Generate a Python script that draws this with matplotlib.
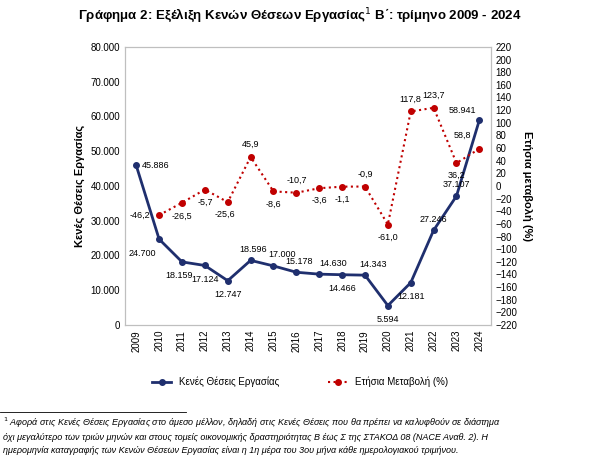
import matplotlib
matplotlib.use("Agg")
import matplotlib.pyplot as plt
from matplotlib.ticker import FuncFormatter

years = [str(y) for y in range(2009, 2025)]
vacancies = [45886, 24700, 18159, 17124, 12747, 18596, 17000, 15178, 14630, 14466, 14343, 5594, 12181, 27246, 37107, 58941]
change_years = years[1:]
change = [-46.2, -26.5, -5.7, -25.6, 45.9, -8.6, -10.7, -3.6, -1.1, -0.9, -61.0, 117.8, 123.7, 36.2, 58.8]

plt.rcParams["font.family"] = "Liberation Sans"
fig = plt.figure(figsize=(6, 4.69), dpi=100)
ax = fig.add_axes([0.208, 0.307, 0.61, 0.593])
ax2 = ax.twinx()

x = list(range(len(years)))
blue = "#1f2f6e"
red = "#c00000"
ax.plot(x, vacancies, color=blue, lw=2, marker="o", ms=4, label="Κενές Θέσεις Εργασίας")
ax2.plot(x[1:], change, color=red, lw=1.5, ls=":", marker="o", ms=4, label="Ετήσια Μεταβολή (%)")

def gr(v, d=0):
    s = f"{v:,.{d}f}"
    return s.replace(",", "X").replace(".", ",").replace("X", ".")

boff = {0: (14, 0), 1: (-12, -10), 2: (-2, -10), 3: (0, -10), 4: (0, -10), 5: (2, 8), 6: (6, 8),
        7: (2, 8), 8: (10, 8), 9: (0, -10), 10: (6, 8), 11: (0, -10), 12: (0, -10), 13: (0, 8), 14: (0, 8), 15: (-12, 7)}
for i, v in enumerate(vacancies):
    dx, dy = boff[i]
    ax.annotate(gr(v), (x[i], v), xytext=(dx, dy), textcoords="offset points", ha="center", va="center", fontsize=6.5)
roff = {0: (-14, 0), 1: (0, -10), 2: (0, -9), 3: (-2, -9), 4: (0, 9), 5: (0, -9), 6: (0, 9), 7: (0, -9),
        8: (0, -9), 9: (0, 9), 10: (0, -9), 11: (0, 9), 12: (0, 9), 13: (0, -9), 14: (-12, 10)}
for i, v in enumerate(change):
    dx, dy = roff[i]
    ax2.annotate(gr(v, 1), (x[i + 1], v), xytext=(dx, dy), textcoords="offset points", ha="center", va="center", fontsize=6.5)

ax.set_ylim(0, 80000)
ax.set_yticks(range(0, 80001, 10000))
ax.yaxis.set_major_formatter(FuncFormatter(lambda v, p: gr(v)))
ax2.set_ylim(-220, 220)
ax2.set_yticks(range(-220, 221, 20))
ax.set_xlim(-0.5, len(years) - 0.5)
ax.set_xticks(x)
ax.set_xticklabels(years, rotation=90)
for a in (ax, ax2):
    a.tick_params(labelsize=7, length=0)
    for s in a.spines.values():
        s.set_color("#bfbfbf")
ax.set_ylabel("Κενές Θέσεις Εργασίας", fontsize=8, fontweight="bold")
ax2.set_ylabel("Ετήσια μεταβολή (%)", fontsize=8, fontweight="bold", rotation=270, labelpad=10)

fig.text(0.5, 0.965, "Γράφημα 2: Εξέλιξη Κενών Θέσεων Εργασίας$^1$ Β΄: τρίμηνο 2009 - 2024", ha="center", va="center", fontsize=9.5, fontweight="bold")
h1, l1 = ax.get_legend_handles_labels()
h2, l2 = ax2.get_legend_handles_labels()
fig.legend(h1 + h2, l1 + l2, loc="center", bbox_to_anchor=(0.5, 0.185), ncol=2, frameon=False, fontsize=7, columnspacing=5)

fig.add_artist(plt.Line2D([0.0, 0.31], [0.122, 0.122], color="black", lw=0.6))
fig.text(0.005, 0.03,
         "$^1$ Αφορά στις Κενές Θέσεις Εργασίας στο άμεσο μέλλον, δηλαδή στις Κενές Θέσεις που θα πρέπει να καλυφθούν σε διάστημα\n"
         "όχι μεγαλύτερο των τριών μηνών και στους τομείς οικονομικής δραστηριότητας Β έως Σ της ΣΤΑΚΟΔ 08 (NACE Αναθ. 2). Η\n"
         "ημερομηνία καταγραφής των Κενών Θέσεων Εργασίας είναι η 1η μέρα του 3ου μήνα κάθε ημερολογιακού τριμήνου.",
         fontsize=6.5, style="italic", va="bottom", linespacing=1.5)
fig.savefig("out.png", dpi=100)
